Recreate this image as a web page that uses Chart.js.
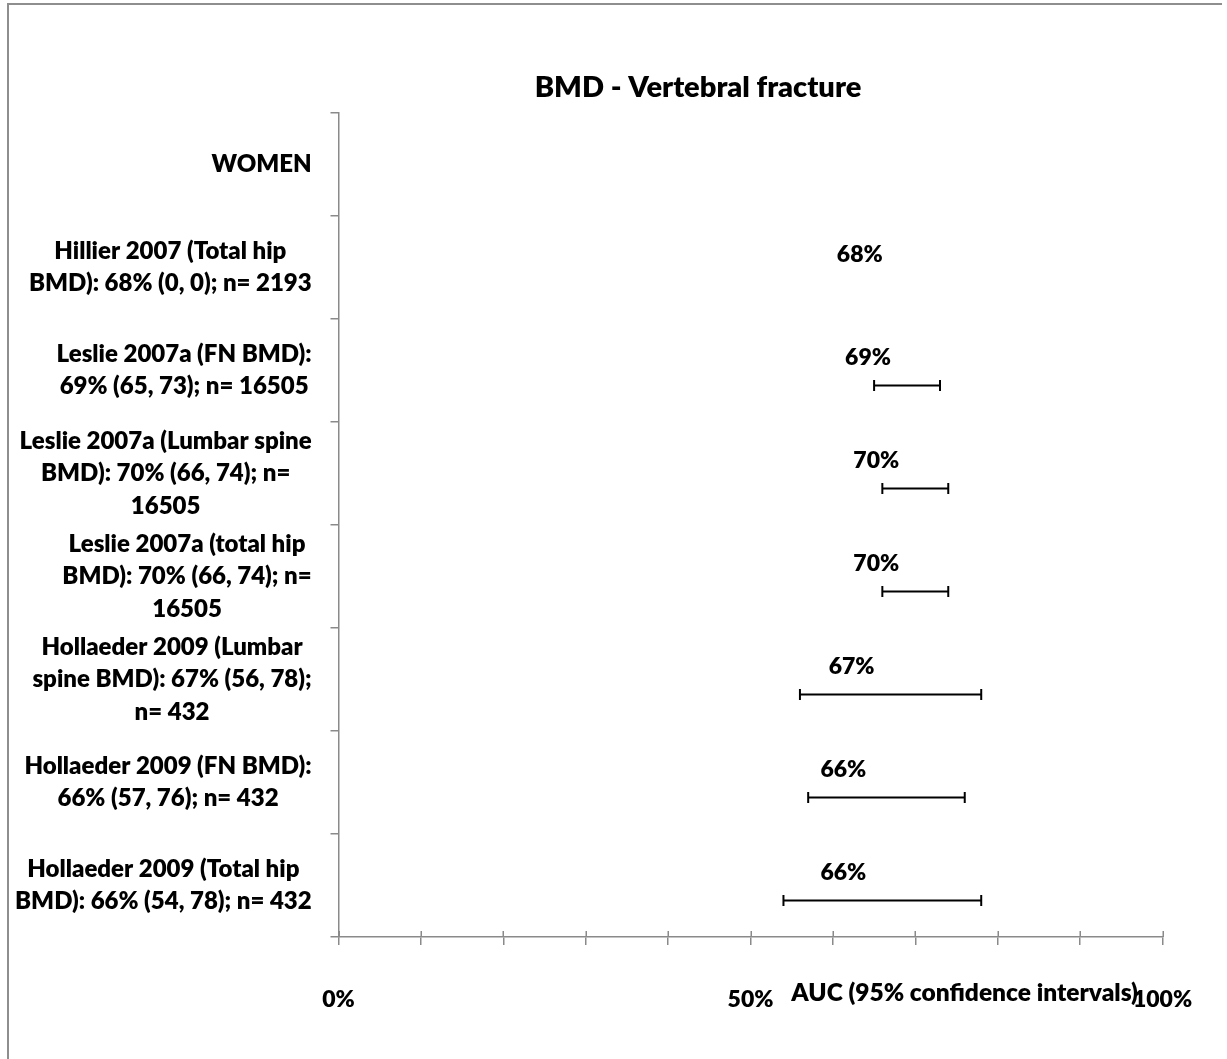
<!DOCTYPE html>
<html><head><meta charset="utf-8">
<script src="https://cdn.jsdelivr.net/npm/chart.js@4.4.1/dist/chart.umd.min.js"></script>
<style>
html,body{margin:0;padding:0;background:#fff;}
#wrap{position:relative;width:1227px;height:1059px;overflow:hidden;}
#frame{position:absolute;left:7px;top:3px;width:1215px;height:1100px;border-left:2px solid #8e8e8e;border-top:2px solid #8e8e8e;box-sizing:border-box;pointer-events:none;}
canvas{position:absolute;left:0;top:0;}
</style></head><body>
<div id="wrap"><canvas id="c" width="1227" height="1059"></canvas><div id="frame"></div></div>
<script>
// ---- data ----
const chartTitle = 'BMD - Vertebral fracture';
const xAxisTitle = 'AUC (95% confidence intervals)';
const categories = [
  ['WOMEN'],
  ['Hillier 2007 (Total hip', 'BMD): 68% (0, 0); n= 2193'],
  ['Leslie 2007a (FN BMD):', '69% (65, 73); n= 16505'],
  ['Leslie 2007a (Lumbar spine', 'BMD): 70% (66, 74); n=', '16505'],
  ['Leslie 2007a (total hip', 'BMD): 70% (66, 74); n=', '16505'],
  ['Hollaeder 2009 (Lumbar', 'spine BMD): 67% (56, 78);', 'n= 432'],
  ['Hollaeder 2009 (FN BMD):', '66% (57, 76); n= 432'],
  ['Hollaeder 2009 (Total hip', 'BMD): 66% (54, 78); n= 432']
];
const auc     = [null, 68, 69, 70, 70, 67, 66, 66];
const ciLower = [null, null, 65, 66, 66, 56, 57, 54];
const ciUpper = [null, null, 73, 74, 74, 78, 76, 78];
const xLabelledTicks = [0, 50, 100];

// ---- style ----
const FONT = 'Lato';
const WEIGHT = 800;
const AXIS_COLOR = '#8a8a8a';
const X_TICK_PAD = 41;
const X_TICK_FONT = 23;

const aucBars = auc.map(v => v == null ? null : [v, v]);
const ciBars = ciLower.map((lo, i) => lo == null ? null : [lo, ciUpper[i]]);

const annotate = {
  id: 'annotate',
  afterDatasetsDraw(chart) {
    const {ctx, scales: {x, y}} = chart;
    const ciMeta = chart.getDatasetMeta(1);
    const aucMeta = chart.getDatasetMeta(0);
    ctx.save();
    // error bar caps
    ctx.strokeStyle = '#000';
    ctx.lineWidth = 2;
    ciMeta.data.forEach((el, i) => {
      if (ciLower[i] == null) return;
      [el.base, el.x].forEach(px => {
        ctx.beginPath();
        ctx.moveTo(px, el.y - 5.5);
        ctx.lineTo(px, el.y + 5.5);
        ctx.stroke();
      });
    });
    // value labels
    ctx.fillStyle = '#000';
    ctx.font = WEIGHT + ' 23px ' + FONT;
    ctx.textAlign = 'center';
    ctx.textBaseline = 'middle';
    auc.forEach((v, i) => {
      if (v == null) return;
      const el = aucMeta.data[i];
      ctx.fillText(v + '%', x.getPixelForValue(v) - 39, el.y + 2.5);
    });
    ctx.restore();
  },
  afterDraw(chart) {
    const {ctx, scales: {x, y}} = chart;
    ctx.save();
    // cross tick marks above x axis
    ctx.strokeStyle = AXIS_COLOR;
    ctx.lineWidth = 1.5;
    for (let v = x.min; v <= x.max; v += 10) {
      const px = Math.round(x.getPixelForValue(v)) + 0.25;
      ctx.beginPath();
      ctx.moveTo(px, x.top - 6);
      ctx.lineTo(px, x.top);
      ctx.stroke();
    }
    // category labels: block right-aligned, lines centred within block
    ctx.fillStyle = '#000';
    ctx.font = WEIGHT + ' 24px ' + FONT;
    ctx.textAlign = 'center';
    ctx.textBaseline = 'middle';
    const rightEdge = y.right - 26.8;
    const lh = 32.5;
    categories.forEach((lines, i) => {
      const cy = y.getPixelForTick(i);
      const w = Math.max(...lines.map(l => ctx.measureText(l).width));
      const cx = rightEdge - w / 2;
      lines.forEach((l, k) => ctx.fillText(l, cx, cy + (k - (lines.length - 1) / 2) * lh));
    });
    // x axis title (sits on the tick-label line, just left of "100%")
    ctx.font = WEIGHT + ' 24.5px ' + FONT;
    ctx.textAlign = 'right';
    const tickCenter = x.top + 8 + X_TICK_PAD + X_TICK_FONT * 1.2 / 2;
    ctx.fillText(xAxisTitle, x.right - 24.5, tickCenter - 7);
    ctx.restore();
  }
};

new Chart(document.getElementById('c'), {
  type: 'bar',
  data: {
    labels: categories.map(c => c.join(' ')),
    datasets: [
      {label: 'AUC', data: aucBars, backgroundColor: 'rgba(0,0,0,0)', borderWidth: 0,
       categoryPercentage: 0.5825, barPercentage: 1, maxBarThickness: 2},
      {label: '95% CI', data: ciBars, backgroundColor: '#000', borderWidth: 0,
       categoryPercentage: 0.5825, barPercentage: 1, maxBarThickness: 2}
    ]
  },
  options: {
    indexAxis: 'y',
    responsive: false,
    animation: false,
    layout: {padding: {left: 233.5, right: 64.5, top: 0, bottom: 0}},
    plugins: {
      legend: {display: false},
      tooltip: {enabled: false},
      title: {
        display: true, text: chartTitle, color: '#000',
        font: {family: FONT, size: 29, weight: WEIGHT, lineHeight: 1.2},
        padding: {top: 70.6, bottom: 7.6}
      }
    },
    scales: {
      x: {
        type: 'linear', min: 0, max: 100, position: 'bottom',
        ticks: {
          stepSize: 10, autoSkip: false, maxRotation: 0, color: '#000',
          padding: X_TICK_PAD,
          font: {family: FONT, size: X_TICK_FONT, weight: WEIGHT},
          callback: v => xLabelledTicks.includes(v) ? v + '%' : ''
        },
        grid: {drawOnChartArea: false, drawTicks: true, tickLength: 8, color: AXIS_COLOR, lineWidth: 1.5},
        border: {display: true, color: AXIS_COLOR, width: 1.5},
        afterFit: s => { s.height = 122; s.paddingLeft = 0; s.paddingRight = 0; }
      },
      y: {
        type: 'category', offset: true,
        ticks: {display: false},
        grid: {offset: true, drawOnChartArea: false, drawTicks: true, tickLength: 8, color: AXIS_COLOR, lineWidth: 1.5},
        border: {display: true, color: AXIS_COLOR, width: 1.5},
        afterFit: s => { s.width = 105; }
      }
    }
  },
  plugins: [annotate]
});
</script>
</body></html>
